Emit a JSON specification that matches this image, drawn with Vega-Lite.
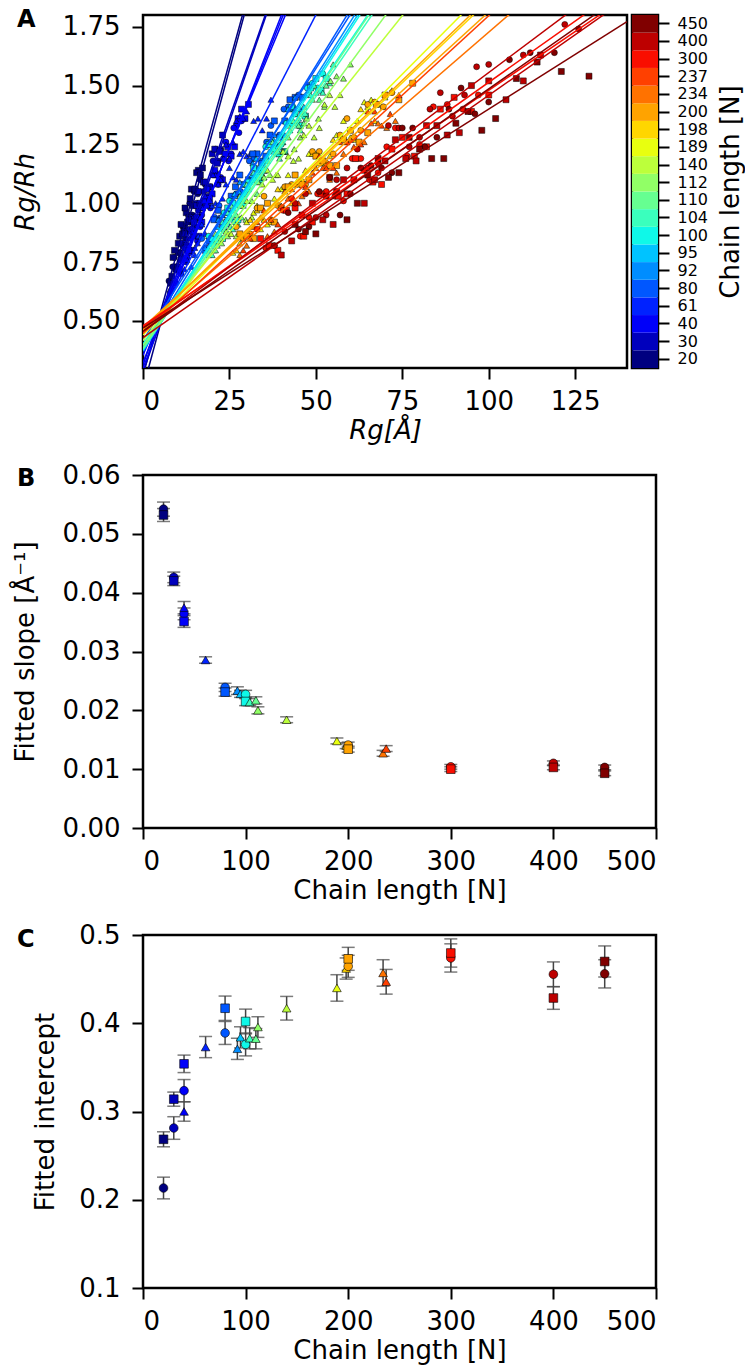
{
"$schema": "https://vega.github.io/schema/vega-lite/v6.json",
"padding": {"left": 10, "top": 6, "right": 0, "bottom": 5},
"background": "white",
"config": {
  "font": "DejaVu Sans",
  "view": {"stroke": "black", "strokeWidth": 2.5},
  "axis": {"domain": false, "grid": false, "ticks": true, "tickColor": "black", "tickWidth": 2, "tickSize": 11,
           "labelFontSize": 26, "labelColor": "black", "labelFont": "DejaVu Sans",
           "titleFontSize": 26, "titleFontWeight": "normal", "titleColor": "black", "titleFont": "DejaVu Sans"},
  "axisX": {"labelPadding": 9},
  "axisY": {"labelPadding": 12},
  "title": {"fontSize": 24, "fontWeight": "bold", "anchor": "start", "frame": "group", "baseline": "middle", "color": "black"}
},
"datasets": {
"fit": [
{"n":20,"s":"c","m":0.0542,"mlo":0.0530,"mhi":0.0554,"b":0.2133,"blo":0.2010,"bhi":0.2256},
{"n":20,"s":"s","m":0.0532,"mlo":0.0521,"mhi":0.0543,"b":0.2685,"blo":0.2600,"bhi":0.2770},
{"n":30,"s":"c","m":0.0426,"mlo":0.0417,"mhi":0.0435,"b":0.2813,"blo":0.2685,"bhi":0.2941},
{"n":30,"s":"s","m":0.0420,"mlo":0.0412,"mhi":0.0428,"b":0.3140,"blo":0.3060,"bhi":0.3220},
{"n":40,"s":"c","m":0.0364,"mlo":0.0354,"mhi":0.0374,"b":0.3236,"blo":0.3110,"bhi":0.3362},
{"n":40,"s":"s","m":0.0351,"mlo":0.0341,"mhi":0.0361,"b":0.3540,"blo":0.3441,"bhi":0.3639},
{"n":40,"s":"t","m":0.03745,"mlo":0.0364,"mhi":0.0385,"b":0.3000,"blo":0.2890,"bhi":0.3110},
{"n":61,"s":"t","m":0.02855,"mlo":0.0280,"mhi":0.0291,"b":0.3730,"blo":0.3610,"bhi":0.3850},
{"n":80,"s":"c","m":0.0239,"mlo":0.0232,"mhi":0.0246,"b":0.3890,"blo":0.3760,"bhi":0.4020},
{"n":80,"s":"s","m":0.0231,"mlo":0.0224,"mhi":0.0238,"b":0.4170,"blo":0.4032,"bhi":0.4308},
{"n":92,"s":"t","m":0.02334,"mlo":0.0227,"mhi":0.0240,"b":0.3710,"blo":0.3590,"bhi":0.3830},
{"n":95,"s":"t","m":0.0228,"mlo":0.0222,"mhi":0.0234,"b":0.3840,"blo":0.3720,"bhi":0.3960},
{"n":100,"s":"c","m":0.0227,"mlo":0.0220,"mhi":0.0234,"b":0.3760,"blo":0.3630,"bhi":0.3890},
{"n":100,"s":"s","m":0.0215,"mlo":0.0208,"mhi":0.0222,"b":0.4020,"blo":0.3880,"bhi":0.4160},
{"n":104,"s":"t","m":0.0214,"mlo":0.0208,"mhi":0.0220,"b":0.3830,"blo":0.3710,"bhi":0.3950},
{"n":110,"s":"t","m":0.0217,"mlo":0.0211,"mhi":0.0223,"b":0.3825,"blo":0.3710,"bhi":0.3940},
{"n":112,"s":"t","m":0.0200,"mlo":0.0194,"mhi":0.0206,"b":0.3957,"blo":0.3840,"bhi":0.4074},
{"n":140,"s":"t","m":0.0184,"mlo":0.0179,"mhi":0.0189,"b":0.4170,"blo":0.4036,"bhi":0.4304},
{"n":189,"s":"t","m":0.01478,"mlo":0.0143,"mhi":0.0153,"b":0.4400,"blo":0.4250,"bhi":0.4550},
{"n":198,"s":"t","m":0.0140,"mlo":0.0135,"mhi":0.0145,"b":0.4620,"blo":0.4500,"bhi":0.4740},
{"n":200,"s":"c","m":0.0141,"mlo":0.0136,"mhi":0.0146,"b":0.4645,"blo":0.4520,"bhi":0.4770},
{"n":200,"s":"s","m":0.0134,"mlo":0.0129,"mhi":0.0139,"b":0.4730,"blo":0.4600,"bhi":0.4860},
{"n":234,"s":"t","m":0.0127,"mlo":0.0122,"mhi":0.0132,"b":0.4570,"blo":0.4420,"bhi":0.4720},
{"n":237,"s":"t","m":0.0135,"mlo":0.0130,"mhi":0.0140,"b":0.4470,"blo":0.4330,"bhi":0.4610},
{"n":300,"s":"c","m":0.0104,"mlo":0.0100,"mhi":0.0108,"b":0.4740,"blo":0.4580,"bhi":0.4900},
{"n":300,"s":"s","m":0.0100,"mlo":0.0096,"mhi":0.0104,"b":0.4796,"blo":0.4636,"bhi":0.4956},
{"n":400,"s":"c","m":0.0110,"mlo":0.0106,"mhi":0.0114,"b":0.4555,"blo":0.4415,"bhi":0.4695},
{"n":400,"s":"s","m":0.0103,"mlo":0.0099,"mhi":0.0107,"b":0.4286,"blo":0.4158,"bhi":0.4414},
{"n":450,"s":"c","m":0.0103,"mlo":0.0099,"mhi":0.0107,"b":0.4560,"blo":0.4400,"bhi":0.4720},
{"n":450,"s":"s","m":0.0093,"mlo":0.0089,"mhi":0.0097,"b":0.4700,"blo":0.4524,"bhi":0.4876}
],
"lines": [
{"n":20,"s":"c","x":0,"y":0.2133},{"n":20,"s":"c","x":140,"y":7.801},
{"n":20,"s":"s","x":0,"y":0.2685},{"n":20,"s":"s","x":140,"y":7.717},
{"n":30,"s":"c","x":0,"y":0.2813},{"n":30,"s":"c","x":140,"y":6.245},
{"n":30,"s":"s","x":0,"y":0.314},{"n":30,"s":"s","x":140,"y":6.194},
{"n":40,"s":"c","x":0,"y":0.3236},{"n":40,"s":"c","x":140,"y":5.42},
{"n":40,"s":"s","x":0,"y":0.354},{"n":40,"s":"s","x":140,"y":5.268},
{"n":40,"s":"t","x":0,"y":0.300},{"n":40,"s":"t","x":140,"y":5.543},
{"n":61,"s":"t","x":0,"y":0.373},{"n":61,"s":"t","x":140,"y":4.37},
{"n":80,"s":"c","x":0,"y":0.389},{"n":80,"s":"c","x":140,"y":3.735},
{"n":80,"s":"s","x":0,"y":0.417},{"n":80,"s":"s","x":140,"y":3.651},
{"n":92,"s":"t","x":0,"y":0.371},{"n":92,"s":"t","x":140,"y":3.639},
{"n":95,"s":"t","x":0,"y":0.384},{"n":95,"s":"t","x":140,"y":3.576},
{"n":100,"s":"c","x":0,"y":0.376},{"n":100,"s":"c","x":140,"y":3.554},
{"n":100,"s":"s","x":0,"y":0.402},{"n":100,"s":"s","x":140,"y":3.412},
{"n":104,"s":"t","x":0,"y":0.383},{"n":104,"s":"t","x":140,"y":3.379},
{"n":110,"s":"t","x":0,"y":0.3825},{"n":110,"s":"t","x":140,"y":3.4205},
{"n":112,"s":"t","x":0,"y":0.3957},{"n":112,"s":"t","x":140,"y":3.1957},
{"n":140,"s":"t","x":0,"y":0.417},{"n":140,"s":"t","x":140,"y":2.993},
{"n":189,"s":"t","x":0,"y":0.440},{"n":189,"s":"t","x":140,"y":2.5092},
{"n":198,"s":"t","x":0,"y":0.462},{"n":198,"s":"t","x":140,"y":2.422},
{"n":200,"s":"c","x":0,"y":0.4645},{"n":200,"s":"c","x":140,"y":2.4385},
{"n":200,"s":"s","x":0,"y":0.473},{"n":200,"s":"s","x":140,"y":2.349},
{"n":234,"s":"t","x":0,"y":0.457},{"n":234,"s":"t","x":140,"y":2.235},
{"n":237,"s":"t","x":0,"y":0.447},{"n":237,"s":"t","x":140,"y":2.337},
{"n":300,"s":"c","x":0,"y":0.474},{"n":300,"s":"c","x":140,"y":1.93},
{"n":300,"s":"s","x":0,"y":0.4796},{"n":300,"s":"s","x":140,"y":1.8796},
{"n":400,"s":"c","x":0,"y":0.4555},{"n":400,"s":"c","x":140,"y":1.9955},
{"n":400,"s":"s","x":0,"y":0.4286},{"n":400,"s":"s","x":140,"y":1.8706},
{"n":450,"s":"c","x":0,"y":0.456},{"n":450,"s":"c","x":140,"y":1.898},
{"n":450,"s":"s","x":0,"y":0.470},{"n":450,"s":"s","x":140,"y":1.772}
],
"cb": [{"n":20},{"n":30},{"n":40},{"n":61},{"n":80},{"n":92},{"n":95},{"n":100},{"n":104},{"n":110},{"n":112},{"n":140},{"n":189},{"n":198},{"n":200},{"n":234},{"n":237},{"n":300},{"n":400},{"n":450}],
"pts": [
{"n":20,"s":"c","x":7.5,"y":0.67},{"n":20,"s":"c","x":8.2,"y":0.63},{"n":20,"s":"c","x":9,"y":0.77},{"n":20,"s":"c","x":9.8,"y":0.72},{"n":20,"s":"c","x":10.5,"y":0.79},{"n":20,"s":"c","x":11.2,"y":0.77},{"n":20,"s":"c","x":12,"y":0.90},{"n":20,"s":"c","x":12.8,"y":0.88},{"n":20,"s":"c","x":13.5,"y":1.00},{"n":20,"s":"c","x":14.3,"y":0.95},{"n":20,"s":"c","x":15.2,"y":1.06},{"n":20,"s":"c","x":16.5,"y":1.10},
{"n":20,"s":"c","x":7.85,"y":0.62},{"n":20,"s":"c","x":8.6,"y":0.73},{"n":20,"s":"c","x":9.4,"y":0.66},{"n":20,"s":"c","x":10.15,"y":0.79},{"n":20,"s":"c","x":10.85,"y":0.79},{"n":20,"s":"c","x":11.6,"y":0.90},{"n":20,"s":"c","x":12.4,"y":0.85},{"n":20,"s":"c","x":13.15,"y":0.95},{"n":20,"s":"c","x":13.9,"y":0.92},{"n":20,"s":"c","x":14.75,"y":1.05},{"n":20,"s":"c","x":15.85,"y":1.04},
{"n":20,"s":"s","x":8,"y":0.66},{"n":20,"s":"s","x":8.7,"y":0.77},{"n":20,"s":"s","x":9.5,"y":0.72},{"n":20,"s":"s","x":10.2,"y":0.83},{"n":20,"s":"s","x":11,"y":0.91},{"n":20,"s":"s","x":11.8,"y":0.88},{"n":20,"s":"s","x":12.5,"y":0.96},{"n":20,"s":"s","x":13.3,"y":0.94},{"n":20,"s":"s","x":14,"y":1.06},{"n":20,"s":"s","x":15,"y":1.06},{"n":20,"s":"s","x":16,"y":1.14},{"n":20,"s":"s","x":17.2,"y":1.15},
{"n":20,"s":"s","x":8.35,"y":0.69},{"n":20,"s":"s","x":9.1,"y":0.80},{"n":20,"s":"s","x":9.85,"y":0.73},{"n":20,"s":"s","x":10.6,"y":0.86},{"n":20,"s":"s","x":11.4,"y":0.87},{"n":20,"s":"s","x":12.15,"y":0.98},{"n":20,"s":"s","x":12.9,"y":0.92},{"n":20,"s":"s","x":13.65,"y":1.02},{"n":20,"s":"s","x":14.5,"y":0.99},{"n":20,"s":"s","x":15.5,"y":1.13},{"n":20,"s":"s","x":16.6,"y":1.12},
{"n":30,"s":"c","x":10,"y":0.73},{"n":30,"s":"c","x":11,"y":0.70},{"n":30,"s":"c","x":12,"y":0.83},{"n":30,"s":"c","x":13,"y":0.81},{"n":30,"s":"c","x":14,"y":0.94},{"n":30,"s":"c","x":15,"y":0.90},{"n":30,"s":"c","x":16,"y":0.97},{"n":30,"s":"c","x":17,"y":0.95},{"n":30,"s":"c","x":18,"y":1.08},{"n":30,"s":"c","x":19.5,"y":1.07},{"n":30,"s":"c","x":21,"y":1.23},{"n":30,"s":"c","x":22.5,"y":1.23},
{"n":30,"s":"c","x":10.5,"y":0.71},{"n":30,"s":"c","x":11.5,"y":0.82},{"n":30,"s":"c","x":12.5,"y":0.75},{"n":30,"s":"c","x":13.5,"y":0.89},{"n":30,"s":"c","x":14.5,"y":0.89},{"n":30,"s":"c","x":15.5,"y":1.00},{"n":30,"s":"c","x":16.5,"y":0.94},{"n":30,"s":"c","x":17.5,"y":1.05},{"n":30,"s":"c","x":18.75,"y":1.03},{"n":30,"s":"c","x":20.25,"y":1.18},{"n":30,"s":"c","x":21.75,"y":1.18},
{"n":30,"s":"s","x":10.5,"y":0.72},{"n":30,"s":"s","x":11.5,"y":0.83},{"n":30,"s":"s","x":12.5,"y":0.82},{"n":30,"s":"s","x":13.5,"y":0.93},{"n":30,"s":"s","x":14.5,"y":0.86},{"n":30,"s":"s","x":15.5,"y":0.99},{"n":30,"s":"s","x":16.5,"y":1.00},{"n":30,"s":"s","x":17.5,"y":1.09},{"n":30,"s":"s","x":18.5,"y":1.06},{"n":30,"s":"s","x":20,"y":1.21},{"n":30,"s":"s","x":21.5,"y":1.17},{"n":30,"s":"s","x":23,"y":1.29},
{"n":30,"s":"s","x":11,"y":0.76},{"n":30,"s":"s","x":12,"y":0.87},{"n":30,"s":"s","x":13,"y":0.80},{"n":30,"s":"s","x":14,"y":0.93},{"n":30,"s":"s","x":15,"y":0.93},{"n":30,"s":"s","x":16,"y":1.05},{"n":30,"s":"s","x":17,"y":0.99},{"n":30,"s":"s","x":18,"y":1.09},{"n":30,"s":"s","x":19.25,"y":1.07},{"n":30,"s":"s","x":20.75,"y":1.23},{"n":30,"s":"s","x":22.25,"y":1.22},
{"n":40,"s":"c","x":12,"y":0.81},{"n":40,"s":"c","x":13.5,"y":0.79},{"n":40,"s":"c","x":15,"y":0.94},{"n":40,"s":"c","x":16.5,"y":0.90},{"n":40,"s":"c","x":18,"y":0.99},{"n":40,"s":"c","x":19.5,"y":0.98},{"n":40,"s":"c","x":21,"y":1.13},{"n":40,"s":"c","x":22.5,"y":1.11},{"n":40,"s":"c","x":24,"y":1.26},{"n":40,"s":"c","x":25.5,"y":1.21},{"n":40,"s":"c","x":27,"y":1.33},{"n":40,"s":"c","x":28.5,"y":1.35},
{"n":40,"s":"c","x":12.75,"y":0.77},{"n":40,"s":"c","x":14.25,"y":0.89},{"n":40,"s":"c","x":15.75,"y":0.84},{"n":40,"s":"c","x":17.25,"y":0.98},{"n":40,"s":"c","x":18.75,"y":1.00},{"n":40,"s":"c","x":20.25,"y":1.12},{"n":40,"s":"c","x":21.75,"y":1.08},{"n":40,"s":"c","x":23.25,"y":1.19},{"n":40,"s":"c","x":24.75,"y":1.18},{"n":40,"s":"c","x":26.25,"y":1.32},{"n":40,"s":"c","x":27.75,"y":1.30},
{"n":40,"s":"s","x":12.5,"y":0.81},{"n":40,"s":"s","x":14,"y":0.80},{"n":40,"s":"s","x":15.5,"y":0.94},{"n":40,"s":"s","x":17,"y":0.92},{"n":40,"s":"s","x":18.5,"y":1.06},{"n":40,"s":"s","x":20,"y":1.04},{"n":40,"s":"s","x":21.5,"y":1.12},{"n":40,"s":"s","x":23,"y":1.10},{"n":40,"s":"s","x":24.5,"y":1.24},{"n":40,"s":"s","x":26.5,"y":1.24},{"n":40,"s":"s","x":28.5,"y":1.40},{"n":40,"s":"s","x":30.5,"y":1.42},
{"n":40,"s":"s","x":13.25,"y":0.80},{"n":40,"s":"s","x":14.75,"y":0.92},{"n":40,"s":"s","x":16.25,"y":0.86},{"n":40,"s":"s","x":17.75,"y":1.01},{"n":40,"s":"s","x":19.25,"y":1.02},{"n":40,"s":"s","x":20.75,"y":1.14},{"n":40,"s":"s","x":22.25,"y":1.10},{"n":40,"s":"s","x":23.75,"y":1.21},{"n":40,"s":"s","x":25.5,"y":1.20},{"n":40,"s":"s","x":27.5,"y":1.36},{"n":40,"s":"s","x":29.5,"y":1.36},
{"n":40,"s":"t","x":12,"y":0.72},{"n":40,"s":"t","x":13.5,"y":0.85},{"n":40,"s":"t","x":15,"y":0.81},{"n":40,"s":"t","x":16.5,"y":0.94},{"n":40,"s":"t","x":18,"y":1.03},{"n":40,"s":"t","x":19.5,"y":1.01},{"n":40,"s":"t","x":21,"y":1.12},{"n":40,"s":"t","x":22.5,"y":1.10},{"n":40,"s":"t","x":24,"y":1.25},{"n":40,"s":"t","x":26,"y":1.26},{"n":40,"s":"t","x":28,"y":1.37},{"n":40,"s":"t","x":30,"y":1.39},
{"n":40,"s":"t","x":12.75,"y":0.76},{"n":40,"s":"t","x":14.25,"y":0.88},{"n":40,"s":"t","x":15.75,"y":0.83},{"n":40,"s":"t","x":17.25,"y":0.98},{"n":40,"s":"t","x":18.75,"y":0.99},{"n":40,"s":"t","x":20.25,"y":1.12},{"n":40,"s":"t","x":21.75,"y":1.08},{"n":40,"s":"t","x":23.25,"y":1.19},{"n":40,"s":"t","x":25,"y":1.19},{"n":40,"s":"t","x":27,"y":1.35},{"n":40,"s":"t","x":29,"y":1.36},
{"n":61,"s":"t","x":14,"y":0.73},{"n":61,"s":"t","x":16,"y":0.86},{"n":61,"s":"t","x":18,"y":0.87},{"n":61,"s":"t","x":20,"y":0.99},{"n":61,"s":"t","x":22,"y":0.94},{"n":61,"s":"t","x":24,"y":1.08},{"n":61,"s":"t","x":26,"y":1.11},{"n":61,"s":"t","x":28,"y":1.21},{"n":61,"s":"t","x":30,"y":1.20},{"n":61,"s":"t","x":32,"y":1.35},{"n":61,"s":"t","x":34.5,"y":1.31},{"n":61,"s":"t","x":37,"y":1.44},
{"n":61,"s":"t","x":15,"y":0.78},{"n":61,"s":"t","x":17,"y":0.91},{"n":61,"s":"t","x":19,"y":0.86},{"n":61,"s":"t","x":21,"y":1.00},{"n":61,"s":"t","x":23,"y":1.02},{"n":61,"s":"t","x":25,"y":1.15},{"n":61,"s":"t","x":27,"y":1.10},{"n":61,"s":"t","x":29,"y":1.22},{"n":61,"s":"t","x":31,"y":1.21},{"n":61,"s":"t","x":33.25,"y":1.36},{"n":61,"s":"t","x":35.75,"y":1.36},
{"n":80,"s":"c","x":17,"y":0.85},{"n":80,"s":"c","x":19.5,"y":0.83},{"n":80,"s":"c","x":22,"y":0.99},{"n":80,"s":"c","x":24.5,"y":0.96},{"n":80,"s":"c","x":27,"y":1.04},{"n":80,"s":"c","x":29.5,"y":1.04},{"n":80,"s":"c","x":32,"y":1.19},{"n":80,"s":"c","x":34.5,"y":1.18},{"n":80,"s":"c","x":37,"y":1.33},{"n":80,"s":"c","x":39.5,"y":1.29},{"n":80,"s":"c","x":42,"y":1.41},{"n":80,"s":"c","x":45,"y":1.46},
{"n":80,"s":"c","x":18.25,"y":0.81},{"n":80,"s":"c","x":20.75,"y":0.94},{"n":80,"s":"c","x":23.25,"y":0.89},{"n":80,"s":"c","x":25.75,"y":1.03},{"n":80,"s":"c","x":28.25,"y":1.05},{"n":80,"s":"c","x":30.75,"y":1.18},{"n":80,"s":"c","x":33.25,"y":1.14},{"n":80,"s":"c","x":35.75,"y":1.26},{"n":80,"s":"c","x":38.25,"y":1.25},{"n":80,"s":"c","x":40.75,"y":1.40},{"n":80,"s":"c","x":43.5,"y":1.40},
{"n":80,"s":"s","x":18,"y":0.80},{"n":80,"s":"s","x":20.5,"y":0.93},{"n":80,"s":"s","x":23,"y":0.90},{"n":80,"s":"s","x":25.5,"y":1.03},{"n":80,"s":"s","x":28,"y":1.12},{"n":80,"s":"s","x":30.5,"y":1.10},{"n":80,"s":"s","x":33,"y":1.21},{"n":80,"s":"s","x":35.5,"y":1.20},{"n":80,"s":"s","x":38,"y":1.35},{"n":80,"s":"s","x":41,"y":1.35},{"n":80,"s":"s","x":44,"y":1.45},{"n":80,"s":"s","x":48,"y":1.50},
{"n":80,"s":"s","x":19.25,"y":0.84},{"n":80,"s":"s","x":21.75,"y":0.97},{"n":80,"s":"s","x":24.25,"y":0.92},{"n":80,"s":"s","x":26.75,"y":1.07},{"n":80,"s":"s","x":29.25,"y":1.08},{"n":80,"s":"s","x":31.75,"y":1.21},{"n":80,"s":"s","x":34.25,"y":1.17},{"n":80,"s":"s","x":36.75,"y":1.29},{"n":80,"s":"s","x":39.5,"y":1.28},{"n":80,"s":"s","x":42.5,"y":1.44},{"n":80,"s":"s","x":46,"y":1.45},
{"n":92,"s":"t","x":18,"y":0.81},{"n":92,"s":"t","x":20.5,"y":0.80},{"n":92,"s":"t","x":23,"y":0.95},{"n":92,"s":"t","x":25.5,"y":0.94},{"n":92,"s":"t","x":28,"y":1.09},{"n":92,"s":"t","x":30.5,"y":1.06},{"n":92,"s":"t","x":33,"y":1.15},{"n":92,"s":"t","x":35.5,"y":1.14},{"n":92,"s":"t","x":38,"y":1.29},{"n":92,"s":"t","x":41,"y":1.29},{"n":92,"s":"t","x":44,"y":1.45},{"n":92,"s":"t","x":47,"y":1.46},
{"n":92,"s":"t","x":19.25,"y":0.80},{"n":92,"s":"t","x":21.75,"y":0.93},{"n":92,"s":"t","x":24.25,"y":0.88},{"n":92,"s":"t","x":26.75,"y":1.03},{"n":92,"s":"t","x":29.25,"y":1.04},{"n":92,"s":"t","x":31.75,"y":1.17},{"n":92,"s":"t","x":34.25,"y":1.13},{"n":92,"s":"t","x":36.75,"y":1.25},{"n":92,"s":"t","x":39.5,"y":1.24},{"n":92,"s":"t","x":42.5,"y":1.40},{"n":92,"s":"t","x":45.5,"y":1.40},
{"n":95,"s":"t","x":19,"y":0.78},{"n":95,"s":"t","x":21.5,"y":0.90},{"n":95,"s":"t","x":24,"y":0.91},{"n":95,"s":"t","x":26.5,"y":1.04},{"n":95,"s":"t","x":29,"y":0.99},{"n":95,"s":"t","x":31.5,"y":1.12},{"n":95,"s":"t","x":34,"y":1.15},{"n":95,"s":"t","x":36.5,"y":1.26},{"n":95,"s":"t","x":39,"y":1.24},{"n":95,"s":"t","x":42,"y":1.40},{"n":95,"s":"t","x":45,"y":1.36},{"n":95,"s":"t","x":48,"y":1.49},
{"n":95,"s":"t","x":20.25,"y":0.83},{"n":95,"s":"t","x":22.75,"y":0.95},{"n":95,"s":"t","x":25.25,"y":0.90},{"n":95,"s":"t","x":27.75,"y":1.05},{"n":95,"s":"t","x":30.25,"y":1.06},{"n":95,"s":"t","x":32.75,"y":1.19},{"n":95,"s":"t","x":35.25,"y":1.15},{"n":95,"s":"t","x":37.75,"y":1.27},{"n":95,"s":"t","x":40.5,"y":1.26},{"n":95,"s":"t","x":43.5,"y":1.42},{"n":95,"s":"t","x":46.5,"y":1.41},
{"n":100,"s":"c","x":19,"y":0.86},{"n":100,"s":"c","x":22,"y":0.85},{"n":100,"s":"c","x":25,"y":1.01},{"n":100,"s":"c","x":28,"y":0.99},{"n":100,"s":"c","x":31,"y":1.09},{"n":100,"s":"c","x":34,"y":1.10},{"n":100,"s":"c","x":37,"y":1.26},{"n":100,"s":"c","x":40,"y":1.25},{"n":100,"s":"c","x":43,"y":1.41},{"n":100,"s":"c","x":46,"y":1.38},{"n":100,"s":"c","x":49,"y":1.51},{"n":100,"s":"c","x":52,"y":1.55},
{"n":100,"s":"c","x":20.5,"y":0.82},{"n":100,"s":"c","x":23.5,"y":0.96},{"n":100,"s":"c","x":26.5,"y":0.92},{"n":100,"s":"c","x":29.5,"y":1.08},{"n":100,"s":"c","x":32.5,"y":1.10},{"n":100,"s":"c","x":35.5,"y":1.24},{"n":100,"s":"c","x":38.5,"y":1.21},{"n":100,"s":"c","x":41.5,"y":1.34},{"n":100,"s":"c","x":44.5,"y":1.34},{"n":100,"s":"c","x":47.5,"y":1.49},{"n":100,"s":"c","x":50.5,"y":1.49},
{"n":100,"s":"s","x":20,"y":0.85},{"n":100,"s":"s","x":23,"y":0.85},{"n":100,"s":"s","x":26,"y":1.00},{"n":100,"s":"s","x":29,"y":1.00},{"n":100,"s":"s","x":32,"y":1.15},{"n":100,"s":"s","x":35,"y":1.14},{"n":100,"s":"s","x":38,"y":1.23},{"n":100,"s":"s","x":41,"y":1.22},{"n":100,"s":"s","x":44,"y":1.38},{"n":100,"s":"s","x":47,"y":1.37},{"n":100,"s":"s","x":50,"y":1.53},{"n":100,"s":"s","x":53,"y":1.53},
{"n":100,"s":"s","x":21.5,"y":0.84},{"n":100,"s":"s","x":24.5,"y":0.98},{"n":100,"s":"s","x":27.5,"y":0.93},{"n":100,"s":"s","x":30.5,"y":1.09},{"n":100,"s":"s","x":33.5,"y":1.11},{"n":100,"s":"s","x":36.5,"y":1.25},{"n":100,"s":"s","x":39.5,"y":1.21},{"n":100,"s":"s","x":42.5,"y":1.34},{"n":100,"s":"s","x":45.5,"y":1.33},{"n":100,"s":"s","x":48.5,"y":1.49},{"n":100,"s":"s","x":51.5,"y":1.48},
{"n":104,"s":"t","x":20,"y":0.78},{"n":104,"s":"t","x":23,"y":0.92},{"n":104,"s":"t","x":26,"y":0.89},{"n":104,"s":"t","x":29,"y":1.02},{"n":104,"s":"t","x":32,"y":1.13},{"n":104,"s":"t","x":35,"y":1.11},{"n":104,"s":"t","x":38,"y":1.23},{"n":104,"s":"t","x":41,"y":1.22},{"n":104,"s":"t","x":44,"y":1.38},{"n":104,"s":"t","x":47,"y":1.38},{"n":104,"s":"t","x":50,"y":1.47},{"n":104,"s":"t","x":54,"y":1.51},
{"n":104,"s":"t","x":21.5,"y":0.82},{"n":104,"s":"t","x":24.5,"y":0.96},{"n":104,"s":"t","x":27.5,"y":0.91},{"n":104,"s":"t","x":30.5,"y":1.07},{"n":104,"s":"t","x":33.5,"y":1.09},{"n":104,"s":"t","x":36.5,"y":1.22},{"n":104,"s":"t","x":39.5,"y":1.19},{"n":104,"s":"t","x":42.5,"y":1.31},{"n":104,"s":"t","x":45.5,"y":1.31},{"n":104,"s":"t","x":48.5,"y":1.46},{"n":104,"s":"t","x":52,"y":1.47},
{"n":110,"s":"t","x":21,"y":0.80},{"n":110,"s":"t","x":24,"y":0.93},{"n":110,"s":"t","x":27,"y":0.95},{"n":110,"s":"t","x":30,"y":1.08},{"n":110,"s":"t","x":33,"y":1.04},{"n":110,"s":"t","x":36,"y":1.18},{"n":110,"s":"t","x":39,"y":1.22},{"n":110,"s":"t","x":42,"y":1.33},{"n":110,"s":"t","x":45,"y":1.33},{"n":110,"s":"t","x":48,"y":1.48},{"n":110,"s":"t","x":51,"y":1.44},{"n":110,"s":"t","x":55,"y":1.59},
{"n":110,"s":"t","x":22.5,"y":0.85},{"n":110,"s":"t","x":25.5,"y":0.99},{"n":110,"s":"t","x":28.5,"y":0.94},{"n":110,"s":"t","x":31.5,"y":1.10},{"n":110,"s":"t","x":34.5,"y":1.12},{"n":110,"s":"t","x":37.5,"y":1.26},{"n":110,"s":"t","x":40.5,"y":1.22},{"n":110,"s":"t","x":43.5,"y":1.35},{"n":110,"s":"t","x":46.5,"y":1.34},{"n":110,"s":"t","x":49.5,"y":1.50},{"n":110,"s":"t","x":53,"y":1.50},
{"n":112,"s":"t","x":21,"y":0.87},{"n":112,"s":"t","x":24.5,"y":0.86},{"n":112,"s":"t","x":28,"y":1.03},{"n":112,"s":"t","x":31.5,"y":1.01},{"n":112,"s":"t","x":35,"y":1.11},{"n":112,"s":"t","x":38.5,"y":1.12},{"n":112,"s":"t","x":42,"y":1.28},{"n":112,"s":"t","x":45.5,"y":1.28},{"n":112,"s":"t","x":49,"y":1.44},{"n":112,"s":"t","x":52.5,"y":1.41},{"n":112,"s":"t","x":56,"y":1.54},{"n":112,"s":"t","x":60,"y":1.59},
{"n":112,"s":"t","x":22.75,"y":0.83},{"n":112,"s":"t","x":26.25,"y":0.97},{"n":112,"s":"t","x":29.75,"y":0.93},{"n":112,"s":"t","x":33.25,"y":1.09},{"n":112,"s":"t","x":36.75,"y":1.12},{"n":112,"s":"t","x":40.25,"y":1.26},{"n":112,"s":"t","x":43.75,"y":1.23},{"n":112,"s":"t","x":47.25,"y":1.36},{"n":112,"s":"t","x":50.75,"y":1.36},{"n":112,"s":"t","x":54.25,"y":1.52},{"n":112,"s":"t","x":58,"y":1.53},
{"n":140,"s":"t","x":24,"y":0.88},{"n":140,"s":"t","x":27,"y":0.86},{"n":140,"s":"t","x":30,"y":1.01},{"n":140,"s":"t","x":33,"y":0.99},{"n":140,"s":"t","x":36,"y":1.14},{"n":140,"s":"t","x":39,"y":1.12},{"n":140,"s":"t","x":42,"y":1.20},{"n":140,"s":"t","x":45,"y":1.19},{"n":140,"s":"t","x":48,"y":1.33},{"n":140,"s":"t","x":51,"y":1.32},{"n":140,"s":"t","x":54,"y":1.46},{"n":140,"s":"t","x":57,"y":1.46},
{"n":140,"s":"t","x":25.5,"y":0.87},{"n":140,"s":"t","x":28.5,"y":0.99},{"n":140,"s":"t","x":31.5,"y":0.94},{"n":140,"s":"t","x":34.5,"y":1.08},{"n":140,"s":"t","x":37.5,"y":1.10},{"n":140,"s":"t","x":40.5,"y":1.22},{"n":140,"s":"t","x":43.5,"y":1.18},{"n":140,"s":"t","x":46.5,"y":1.29},{"n":140,"s":"t","x":49.5,"y":1.28},{"n":140,"s":"t","x":52.5,"y":1.42},{"n":140,"s":"t","x":55.5,"y":1.41},
{"n":189,"s":"t","x":26,"y":0.79},{"n":189,"s":"t","x":30,"y":0.92},{"n":189,"s":"t","x":34,"y":0.89},{"n":189,"s":"t","x":38,"y":1.02},{"n":189,"s":"t","x":42,"y":1.12},{"n":189,"s":"t","x":46,"y":1.10},{"n":189,"s":"t","x":50,"y":1.21},{"n":189,"s":"t","x":54,"y":1.20},{"n":189,"s":"t","x":58,"y":1.35},{"n":189,"s":"t","x":62,"y":1.35},{"n":189,"s":"t","x":66,"y":1.44},{"n":189,"s":"t","x":70,"y":1.45},
{"n":189,"s":"t","x":28,"y":0.83},{"n":189,"s":"t","x":32,"y":0.96},{"n":189,"s":"t","x":36,"y":0.91},{"n":189,"s":"t","x":40,"y":1.06},{"n":189,"s":"t","x":44,"y":1.08},{"n":189,"s":"t","x":48,"y":1.21},{"n":189,"s":"t","x":52,"y":1.17},{"n":189,"s":"t","x":56,"y":1.29},{"n":189,"s":"t","x":60,"y":1.28},{"n":189,"s":"t","x":64,"y":1.43},{"n":189,"s":"t","x":68,"y":1.42},
{"n":198,"s":"t","x":27,"y":0.80},{"n":198,"s":"t","x":31,"y":0.93},{"n":198,"s":"t","x":35,"y":0.93},{"n":198,"s":"t","x":39,"y":1.06},{"n":198,"s":"t","x":43,"y":1.00},{"n":198,"s":"t","x":47,"y":1.14},{"n":198,"s":"t","x":51,"y":1.17},{"n":198,"s":"t","x":55,"y":1.27},{"n":198,"s":"t","x":59,"y":1.26},{"n":198,"s":"t","x":63,"y":1.40},{"n":198,"s":"t","x":67,"y":1.35},{"n":198,"s":"t","x":72,"y":1.48},
{"n":198,"s":"t","x":29,"y":0.85},{"n":198,"s":"t","x":33,"y":0.97},{"n":198,"s":"t","x":37,"y":0.92},{"n":198,"s":"t","x":41,"y":1.07},{"n":198,"s":"t","x":45,"y":1.08},{"n":198,"s":"t","x":49,"y":1.21},{"n":198,"s":"t","x":53,"y":1.16},{"n":198,"s":"t","x":57,"y":1.28},{"n":198,"s":"t","x":61,"y":1.27},{"n":198,"s":"t","x":65,"y":1.41},{"n":198,"s":"t","x":69.5,"y":1.41},
{"n":200,"s":"c","x":27,"y":0.90},{"n":200,"s":"c","x":31,"y":0.87},{"n":200,"s":"c","x":35,"y":1.03},{"n":200,"s":"c","x":39,"y":0.99},{"n":200,"s":"c","x":43,"y":1.08},{"n":200,"s":"c","x":47,"y":1.08},{"n":200,"s":"c","x":51,"y":1.22},{"n":200,"s":"c","x":55,"y":1.21},{"n":200,"s":"c","x":59,"y":1.36},{"n":200,"s":"c","x":63,"y":1.31},{"n":200,"s":"c","x":67,"y":1.43},{"n":200,"s":"c","x":72,"y":1.47},
{"n":200,"s":"c","x":29,"y":0.85},{"n":200,"s":"c","x":33,"y":0.98},{"n":200,"s":"c","x":37,"y":0.93},{"n":200,"s":"c","x":41,"y":1.07},{"n":200,"s":"c","x":45,"y":1.09},{"n":200,"s":"c","x":49,"y":1.22},{"n":200,"s":"c","x":53,"y":1.17},{"n":200,"s":"c","x":57,"y":1.29},{"n":200,"s":"c","x":61,"y":1.28},{"n":200,"s":"c","x":65,"y":1.42},{"n":200,"s":"c","x":69.5,"y":1.41},
{"n":200,"s":"s","x":28,"y":0.87},{"n":200,"s":"s","x":32,"y":0.85},{"n":200,"s":"s","x":36,"y":1.00},{"n":200,"s":"s","x":40,"y":0.98},{"n":200,"s":"s","x":44,"y":1.12},{"n":200,"s":"s","x":48,"y":1.10},{"n":200,"s":"s","x":52,"y":1.18},{"n":200,"s":"s","x":56,"y":1.16},{"n":200,"s":"s","x":60,"y":1.31},{"n":200,"s":"s","x":65,"y":1.30},{"n":200,"s":"s","x":70,"y":1.46},{"n":200,"s":"s","x":78,"y":1.51},
{"n":200,"s":"s","x":30,"y":0.86},{"n":200,"s":"s","x":34,"y":0.98},{"n":200,"s":"s","x":38,"y":0.92},{"n":200,"s":"s","x":42,"y":1.07},{"n":200,"s":"s","x":46,"y":1.08},{"n":200,"s":"s","x":50,"y":1.20},{"n":200,"s":"s","x":54,"y":1.16},{"n":200,"s":"s","x":58,"y":1.27},{"n":200,"s":"s","x":62.5,"y":1.26},{"n":200,"s":"s","x":67.5,"y":1.42},{"n":200,"s":"s","x":74,"y":1.44},
{"n":234,"s":"t","x":28,"y":0.78},{"n":234,"s":"t","x":32,"y":0.90},{"n":234,"s":"t","x":36,"y":0.86},{"n":234,"s":"t","x":40,"y":0.99},{"n":234,"s":"t","x":44,"y":1.08},{"n":234,"s":"t","x":48,"y":1.05},{"n":234,"s":"t","x":52,"y":1.15},{"n":234,"s":"t","x":56,"y":1.13},{"n":234,"s":"t","x":60,"y":1.27},{"n":234,"s":"t","x":64,"y":1.26},{"n":234,"s":"t","x":68,"y":1.34},{"n":234,"s":"t","x":73,"y":1.35},
{"n":234,"s":"t","x":30,"y":0.82},{"n":234,"s":"t","x":34,"y":0.94},{"n":234,"s":"t","x":38,"y":0.88},{"n":234,"s":"t","x":42,"y":1.02},{"n":234,"s":"t","x":46,"y":1.03},{"n":234,"s":"t","x":50,"y":1.15},{"n":234,"s":"t","x":54,"y":1.10},{"n":234,"s":"t","x":58,"y":1.21},{"n":234,"s":"t","x":62,"y":1.19},{"n":234,"s":"t","x":66,"y":1.34},{"n":234,"s":"t","x":70.5,"y":1.32},
{"n":237,"s":"t","x":29,"y":0.80},{"n":237,"s":"t","x":33,"y":0.92},{"n":237,"s":"t","x":37,"y":0.93},{"n":237,"s":"t","x":41,"y":1.05},{"n":237,"s":"t","x":45,"y":1.00},{"n":237,"s":"t","x":49,"y":1.13},{"n":237,"s":"t","x":53,"y":1.15},{"n":237,"s":"t","x":57,"y":1.26},{"n":237,"s":"t","x":61,"y":1.24},{"n":237,"s":"t","x":65,"y":1.39},{"n":237,"s":"t","x":69,"y":1.33},{"n":237,"s":"t","x":74,"y":1.46},
{"n":237,"s":"t","x":31,"y":0.85},{"n":237,"s":"t","x":35,"y":0.97},{"n":237,"s":"t","x":39,"y":0.91},{"n":237,"s":"t","x":43,"y":1.06},{"n":237,"s":"t","x":47,"y":1.07},{"n":237,"s":"t","x":51,"y":1.20},{"n":237,"s":"t","x":55,"y":1.15},{"n":237,"s":"t","x":59,"y":1.26},{"n":237,"s":"t","x":63,"y":1.25},{"n":237,"s":"t","x":67,"y":1.39},{"n":237,"s":"t","x":71.5,"y":1.38},
{"n":300,"s":"c","x":33,"y":0.89},{"n":300,"s":"c","x":38,"y":0.82},{"n":300,"s":"c","x":43,"y":1.02},{"n":300,"s":"c","x":48,"y":0.94},{"n":300,"s":"c","x":53,"y":1.05},{"n":300,"s":"c","x":58,"y":1.01},{"n":300,"s":"c","x":63,"y":1.19},{"n":300,"s":"c","x":68,"y":1.13},{"n":300,"s":"c","x":73,"y":1.32},{"n":300,"s":"c","x":80,"y":1.25},{"n":300,"s":"c","x":88,"y":1.42},{"n":300,"s":"c","x":97,"y":1.46},
{"n":300,"s":"c","x":35.5,"y":0.81},{"n":300,"s":"c","x":40.5,"y":0.97},{"n":300,"s":"c","x":45.5,"y":0.86},{"n":300,"s":"c","x":50.5,"y":1.04},{"n":300,"s":"c","x":55.5,"y":1.03},{"n":300,"s":"c","x":60.5,"y":1.19},{"n":300,"s":"c","x":65.5,"y":1.10},{"n":300,"s":"c","x":70.5,"y":1.24},{"n":300,"s":"c","x":76.5,"y":1.20},{"n":300,"s":"c","x":84,"y":1.41},{"n":300,"s":"c","x":92.5,"y":1.40},
{"n":300,"s":"s","x":34,"y":0.85},{"n":300,"s":"s","x":39,"y":0.80},{"n":300,"s":"s","x":44,"y":0.98},{"n":300,"s":"s","x":49,"y":0.92},{"n":300,"s":"s","x":54,"y":1.11},{"n":300,"s":"s","x":59,"y":1.04},{"n":300,"s":"s","x":64,"y":1.14},{"n":300,"s":"s","x":69,"y":1.08},{"n":300,"s":"s","x":75,"y":1.28},{"n":300,"s":"s","x":82,"y":1.24},{"n":300,"s":"s","x":90,"y":1.45},{"n":300,"s":"s","x":100,"y":1.46},
{"n":300,"s":"s","x":36.5,"y":0.82},{"n":300,"s":"s","x":41.5,"y":0.97},{"n":300,"s":"s","x":46.5,"y":0.86},{"n":300,"s":"s","x":51.5,"y":1.04},{"n":300,"s":"s","x":56.5,"y":1.03},{"n":300,"s":"s","x":61.5,"y":1.19},{"n":300,"s":"s","x":66.5,"y":1.09},{"n":300,"s":"s","x":72,"y":1.23},{"n":300,"s":"s","x":78.5,"y":1.20},{"n":300,"s":"s","x":86,"y":1.40},{"n":300,"s":"s","x":95,"y":1.39},
{"n":400,"s":"c","x":38,"y":0.82},{"n":400,"s":"c","x":44,"y":1.00},{"n":400,"s":"c","x":50,"y":0.94},{"n":400,"s":"c","x":56,"y":1.10},{"n":400,"s":"c","x":62,"y":1.23},{"n":400,"s":"c","x":68,"y":1.17},{"n":400,"s":"c","x":74,"y":1.32},{"n":400,"s":"c","x":80,"y":1.28},{"n":400,"s":"c","x":86,"y":1.47},{"n":400,"s":"c","x":93,"y":1.46},{"n":400,"s":"c","x":100,"y":1.59},{"n":400,"s":"c","x":122,"y":1.76},
{"n":400,"s":"c","x":41,"y":0.88},{"n":400,"s":"c","x":47,"y":1.04},{"n":400,"s":"c","x":53,"y":0.95},{"n":400,"s":"c","x":59,"y":1.15},{"n":400,"s":"c","x":65,"y":1.15},{"n":400,"s":"c","x":71,"y":1.33},{"n":400,"s":"c","x":77,"y":1.24},{"n":400,"s":"c","x":83,"y":1.40},{"n":400,"s":"c","x":89.5,"y":1.37},{"n":400,"s":"c","x":96.5,"y":1.58},{"n":400,"s":"c","x":110,"y":1.63},
{"n":400,"s":"s","x":40,"y":0.78},{"n":400,"s":"s","x":46,"y":0.95},{"n":400,"s":"s","x":52,"y":0.93},{"n":400,"s":"s","x":58,"y":1.10},{"n":400,"s":"s","x":64,"y":1.00},{"n":400,"s":"s","x":70,"y":1.18},{"n":400,"s":"s","x":76,"y":1.19},{"n":400,"s":"s","x":82,"y":1.33},{"n":400,"s":"s","x":88,"y":1.29},{"n":400,"s":"s","x":95,"y":1.50},{"n":400,"s":"s","x":105,"y":1.44},{"n":400,"s":"s","x":115,"y":1.63},
{"n":400,"s":"s","x":43,"y":0.84},{"n":400,"s":"s","x":49,"y":1.00},{"n":400,"s":"s","x":55,"y":0.91},{"n":400,"s":"s","x":61,"y":1.10},{"n":400,"s":"s","x":67,"y":1.10},{"n":400,"s":"s","x":73,"y":1.27},{"n":400,"s":"s","x":79,"y":1.18},{"n":400,"s":"s","x":85,"y":1.33},{"n":400,"s":"s","x":91.5,"y":1.30},{"n":400,"s":"s","x":100,"y":1.52},{"n":400,"s":"s","x":110,"y":1.52},
{"n":450,"s":"c","x":42,"y":0.96},{"n":450,"s":"c","x":48,"y":0.90},{"n":450,"s":"c","x":54,"y":1.11},{"n":450,"s":"c","x":60,"y":1.04},{"n":450,"s":"c","x":66,"y":1.16},{"n":450,"s":"c","x":72,"y":1.13},{"n":450,"s":"c","x":78,"y":1.32},{"n":450,"s":"c","x":85,"y":1.28},{"n":450,"s":"c","x":92,"y":1.49},{"n":450,"s":"c","x":100,"y":1.43},{"n":450,"s":"c","x":112,"y":1.64},{"n":450,"s":"c","x":126,"y":1.74},
{"n":450,"s":"c","x":45,"y":0.89},{"n":450,"s":"c","x":51,"y":1.05},{"n":450,"s":"c","x":57,"y":0.95},{"n":450,"s":"c","x":63,"y":1.15},{"n":450,"s":"c","x":69,"y":1.15},{"n":450,"s":"c","x":75,"y":1.32},{"n":450,"s":"c","x":81.5,"y":1.24},{"n":450,"s":"c","x":88.5,"y":1.40},{"n":450,"s":"c","x":96,"y":1.38},{"n":450,"s":"c","x":106,"y":1.61},{"n":450,"s":"c","x":119,"y":1.64},
{"n":450,"s":"s","x":44,"y":0.91},{"n":450,"s":"s","x":50,"y":0.87},{"n":450,"s":"s","x":56,"y":1.05},{"n":450,"s":"s","x":62,"y":1.00},{"n":450,"s":"s","x":68,"y":1.19},{"n":450,"s":"s","x":74,"y":1.13},{"n":450,"s":"s","x":80,"y":1.23},{"n":450,"s":"s","x":87,"y":1.19},{"n":450,"s":"s","x":94,"y":1.39},{"n":450,"s":"s","x":102,"y":1.36},{"n":450,"s":"s","x":114,"y":1.60},{"n":450,"s":"s","x":129,"y":1.54},
{"n":450,"s":"s","x":47,"y":0.88},{"n":450,"s":"s","x":53,"y":1.03},{"n":450,"s":"s","x":59,"y":0.93},{"n":450,"s":"s","x":65,"y":1.12},{"n":450,"s":"s","x":71,"y":1.11},{"n":450,"s":"s","x":77,"y":1.28},{"n":450,"s":"s","x":83.5,"y":1.19},{"n":450,"s":"s","x":90.5,"y":1.34},{"n":450,"s":"s","x":98,"y":1.31},{"n":450,"s":"s","x":108,"y":1.53},{"n":450,"s":"s","x":121,"y":1.56}
]
},
"vconcat": [
 {
  "hconcat": [
   {
    "width": 484, "height": 353,
    "title": {"text": "A", "dx": -126, "offset": -18},
    "layer": [
     {"data": {"name": "pts"},
      "mark": {"type": "point", "filled": true, "stroke": "black", "strokeWidth": 0.5, "size": 36, "opacity": 1, "clip": true},
      "encoding": {
        "x": {"field": "x", "type": "quantitative", "scale": {"domain": [0, 140], "nice": false},
              "axis": {"values": [0, 25, 50, 75, 100, 125], "title": "Rg[Å]", "titleFontStyle": "italic", "titlePadding": 3}},
        "y": {"field": "y", "type": "quantitative", "scale": {"domain": [0.3, 1.8], "nice": false, "zero": false},
              "axis": {"values": [0.5, 0.75, 1.0, 1.25, 1.5, 1.75], "format": ".2f", "title": "Rg/Rh", "titleFontStyle": "italic", "titlePadding": 24}},
        "color": {"field": "n", "type": "ordinal", "legend": null,
                  "scale": {"domain": [20,30,40,61,80,92,95,100,104,110,112,140,189,198,200,234,237,300,400,450],
                            "range": ["#000080","#0000bd","#0000f9","#0022ff","#0057ff","#008dff","#00c3ff","#0ff8e8","#3affbd","#66ff91","#91ff66","#bcff3b","#e8ff0f","#ffd600","#ffa300","#ff7200","#ff4000","#f90e00","#bd0000","#800000"]}},
        "shape": {"field": "s", "type": "nominal", "legend": null,
                  "scale": {"domain": ["c", "s", "t"], "range": ["circle", "square", "triangle-up"]}}
      }},
     {"data": {"name": "lines"},
      "mark": {"type": "line", "strokeWidth": 1.5, "clip": true},
      "encoding": {
        "x": {"field": "x", "type": "quantitative"},
        "y": {"field": "y", "type": "quantitative"},
        "color": {"field": "n", "type": "ordinal", "legend": null},
        "detail": {"field": "s", "type": "nominal"}
      }}
    ]
   },
   {
    "width": 26, "height": 353,
    "data": {"name": "cb"},
    "mark": {"type": "rect"},
    "encoding": {
      "y": {"field": "n", "type": "ordinal", "sort": "descending", "scale": {"paddingInner": 0, "paddingOuter": 0},
            "axis": {"orient": "right", "title": "Chain length [N]", "titleAngle": -90, "titleBaseline": "top", "titlePadding": 10,
                     "labelFontSize": 16, "labelPadding": 8, "tickSize": 11}},
      "color": {"field": "n", "type": "ordinal", "legend": null}
    }
   }
  ],
  "spacing": 1
 },
 {
  "width": 513, "height": 353,
  "title": {"text": "B", "dx": -126, "offset": -29},
  "data": {"name": "fit"},
  "layer": [
   {"mark": {"type": "errorbar", "ticks": {"size": 13, "thickness": 1.5, "color": "#444"}, "rule": {"strokeWidth": 1.5, "color": "#444"}, "color": "#444"},
    "encoding": {
      "x": {"field": "n", "type": "quantitative", "title": "Chain length [N]"},
      "y": {"field": "mlo", "type": "quantitative", "title": "Fitted slope [Å⁻¹]"},
      "y2": {"field": "mhi"}
    }},
   {"mark": {"type": "point", "filled": true, "stroke": "black", "strokeWidth": 0.6, "size": 75, "opacity": 1},
    "encoding": {
      "x": {"field": "n", "type": "quantitative", "scale": {"domain": [0, 500], "nice": false}, "title": "Chain length [N]",
            "axis": {"values": [0, 100, 200, 300, 400, 500], "titlePadding": 3}},
      "y": {"field": "m", "type": "quantitative", "scale": {"domain": [0, 0.06], "nice": false}, "title": "Fitted slope [Å⁻¹]",
            "axis": {"values": [0, 0.01, 0.02, 0.03, 0.04, 0.05, 0.06], "format": ".2f", "titlePadding": 24}},
      "color": {"field": "n", "type": "ordinal", "legend": null},
      "shape": {"field": "s", "type": "nominal", "legend": null}
    }}
  ]
 },
 {
  "width": 513, "height": 353,
  "title": {"text": "C", "dx": -126, "offset": -30},
  "data": {"name": "fit"},
  "layer": [
   {"mark": {"type": "errorbar", "ticks": {"size": 13, "thickness": 1.5, "color": "#444"}, "rule": {"strokeWidth": 1.5, "color": "#444"}, "color": "#444"},
    "encoding": {
      "x": {"field": "n", "type": "quantitative", "title": "Chain length [N]"},
      "y": {"field": "blo", "type": "quantitative", "title": "Fitted intercept"},
      "y2": {"field": "bhi"}
    }},
   {"mark": {"type": "point", "filled": true, "stroke": "black", "strokeWidth": 0.6, "size": 75, "opacity": 1},
    "encoding": {
      "x": {"field": "n", "type": "quantitative", "scale": {"domain": [0, 500], "nice": false}, "title": "Chain length [N]",
            "axis": {"values": [0, 100, 200, 300, 400, 500], "titlePadding": 3}},
      "y": {"field": "b", "type": "quantitative", "scale": {"domain": [0.1, 0.5], "nice": false, "zero": false}, "title": "Fitted intercept",
            "axis": {"values": [0.1, 0.2, 0.3, 0.4, 0.5], "format": ".1f", "titlePadding": 20}},
      "color": {"field": "n", "type": "ordinal", "legend": null},
      "shape": {"field": "s", "type": "nominal", "legend": null}
    }}
  ]
 }
],
"spacing": 15
}
